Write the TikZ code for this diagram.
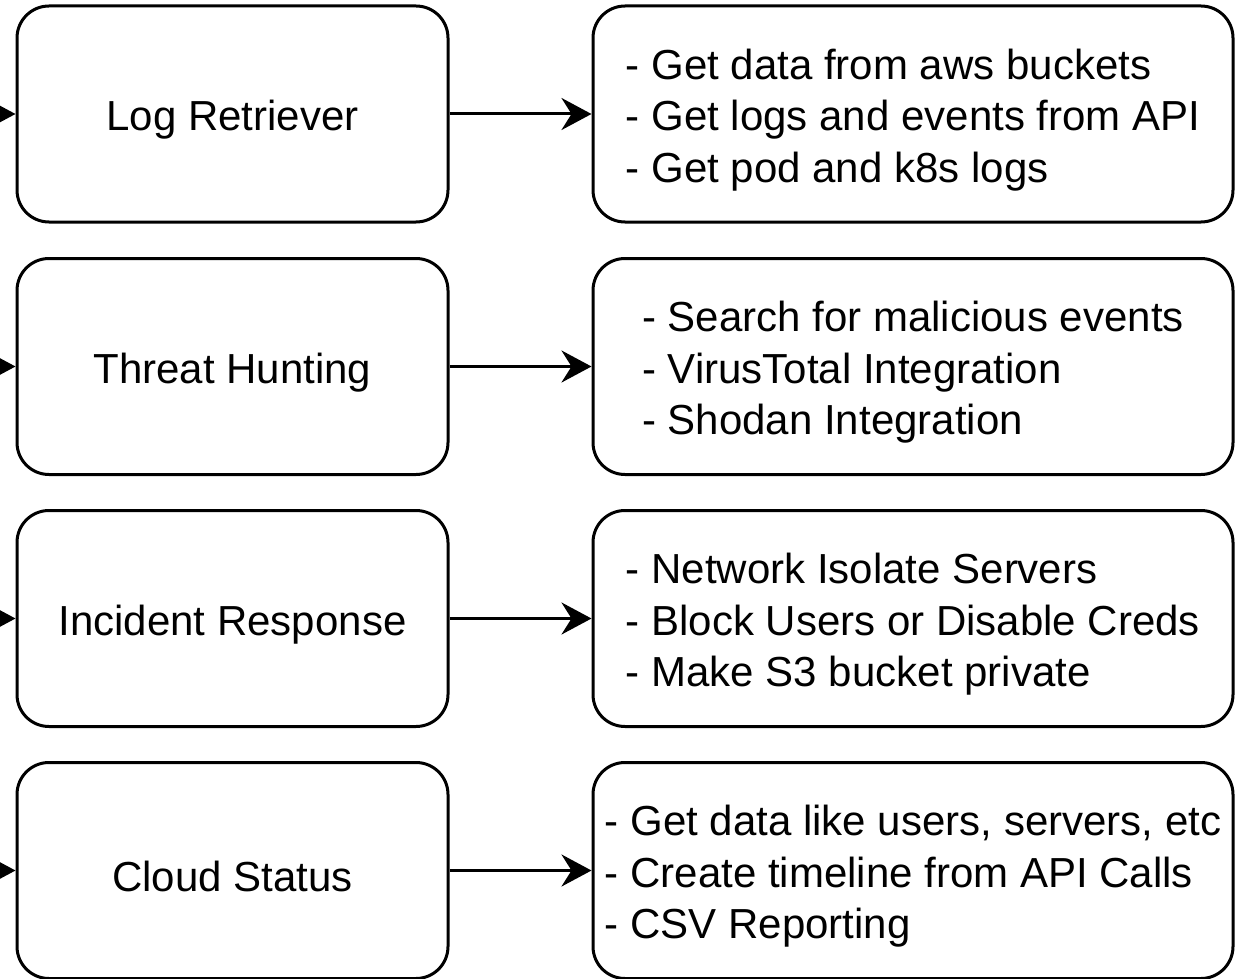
\documentclass[tikz,border=0pt]{standalone}
\usepackage{fontspec}
\setmainfont{Liberation Sans}
\usetikzlibrary{arrows.meta}
\begin{document}
\begin{tikzpicture}[x=1pt,y=-1pt,
  box/.style={draw=black, line width=3pt, rounded corners=32pt, fill=white, inner sep=0pt},
  leftbox/.style={box, minimum width=431pt, minimum height=216pt},
  rightbox/.style={box, minimum width=640pt, minimum height=216pt},
  txt/.style={inner sep=0pt, align=left, font=\fontsize{42}{51.5}\selectfont},
  conn/.style={line width=3pt, -{Stealth[length=30pt,width=32pt,inset=10pt]}}
]
\useasboundingbox (0,0) rectangle (1235,979);

\node[leftbox] (l1) at (232.5,114) {};
\node[leftbox] (l2) at (232.5,366.5) {};
\node[leftbox] (l3) at (232.5,618.5) {};
\node[leftbox] (l4) at (232.5,870.5) {};

\node[rightbox] (r1) at (913,114) {};
\node[rightbox] (r2) at (913,366.5) {};
\node[rightbox] (r3) at (913,618.5) {};
\node[rightbox] (r4) at (913,870.5) {};

\node[txt] (lt1) at ([yshift=-6pt]l1.center) {Log Retriever};
\node[txt] (lt2) at ([yshift=-6pt]l2.center) {Threat Hunting};
\node[txt] (lt3) at ([yshift=-6pt]l3.center) {Incident Response};
\node[txt] (lt4) at ([yshift=-6pt]l4.center) {Cloud Status};

\node[txt] (rt1) at ([yshift=-6pt]r1.center) {- Get data from aws buckets\\- Get logs and events from API\\- Get pod and k8s logs};
\node[txt] (rt2) at ([yshift=-6pt]r2.center) {- Search for malicious events\\- VirusTotal Integration\\- Shodan Integration};
\node[txt] (rt3) at ([yshift=-6pt]r3.center) {- Network Isolate Servers\\- Block Users or Disable Creds\\- Make S3 bucket private};
\node[txt] (rt4) at ([yshift=-6pt]r4.center) {- Get data like users, servers, etc\\- Create timeline from API Calls\\- CSV Reporting};

\coordinate (s1) at (-40,114);
\coordinate (s2) at (-40,366.5);
\coordinate (s3) at (-40,618.5);
\coordinate (s4) at (-40,870.5);

\foreach \i in {1,2,3,4} {
  \draw[conn] (s\i) -- (l\i.west);
  \draw[conn] (l\i.east) -- (r\i.west);
}
\end{tikzpicture}
\end{document}
